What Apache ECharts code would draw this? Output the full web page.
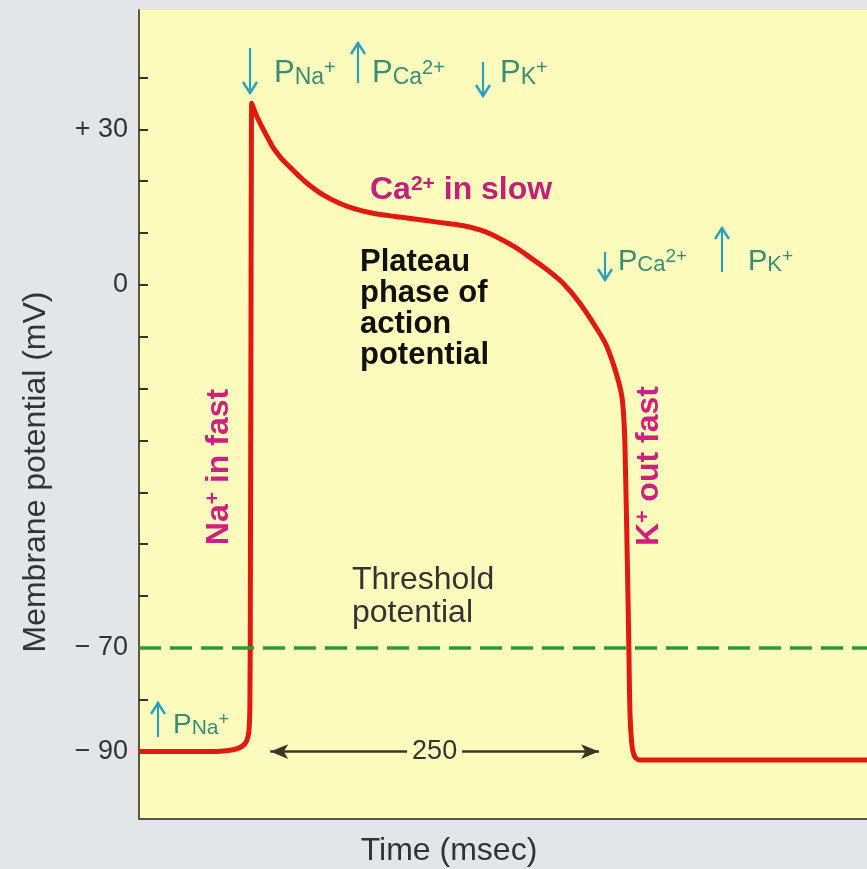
<!DOCTYPE html>
<html>
<head>
<meta charset="utf-8">
<script src="https://cdn.jsdelivr.net/npm/echarts@6/dist/echarts.min.js"></script>
<style>
  html, body { margin: 0; padding: 0; background: #e2e6e8; }
  #chart { width: 867px; height: 869px; }
</style>
</head>
<body>
<div id="chart"></div>
<script>
// ventricular action potential, time in ms (0 = upstroke), potential in mV
var timeMs = [-80, -28, -19, -11, -5.5, -2.2, -0.4, 0.3, 0.6, 1.0, 1.3,
  1.6, 4, 8, 12.5, 17, 23, 29.3, 35, 41.6, 53,
  65.5, 77, 89.4, 102, 114, 136, 155, 168, 180, 192,
  203, 215, 227, 239, 252, 258, 263, 267, 269.6, 271,
  271.8, 273.3, 274.6, 275.4, 276.4, 277.6, 279.5, 283, 447];
var potential = [-90, -90, -89.9, -89.6, -89, -88, -86, -80, -60, -15, 20,
  35, 33.3, 31, 28.7, 26.5, 24.4, 22.7, 21.2, 19.6, 17.4,
  15.7, 14.6, 13.8, 13.3, 12.9, 12.1, 11.4, 10.5, 9.1, 7.3,
  5.3, 3, 0.3, -3.5, -8.7, -11.5, -15, -18.5, -21.6, -26,
  -31.3, -50.5, -70, -82.5, -87.5, -90, -91.2, -91.6, -91.6];

var tickValues = [-90, -80, -70, -60, -50, -40, -30, -20, -10, 0, 10, 20, 30, 40];
var labelValues = [30, 0, -70, -90];
var labelText = ['+ 30', '0', '\u2212 70', '\u2212 90'];
var threshold = -70;
var plateauSpan = [15, 253];   // arrow ends of the "250" bracket
var plateauLabel = '250';

var FONT = 'Liberation Sans';
var cyan = '#2aa0c0';
var teal = '#3a8d74';
var magenta = '#cf2080';

var chart = echarts.init(document.getElementById('chart'));

function arrow(x, y1, y2, up) {
  var tip = up ? y1 : y2;
  var d = up ? 1 : -1;
  return {
    type: 'group', silent: true,
    children: [
      { type: 'line', shape: { x1: x, y1: y1, x2: x, y2: y2 }, style: { stroke: cyan, lineWidth: 2.2 } },
      { type: 'polyline', shape: { points: [[x - 7, tip + d * 11], [x, tip], [x + 7, tip + d * 11]] },
        style: { stroke: cyan, lineWidth: 2.4, fill: null } }
    ]
  };
}

function perm(x, bottom, sub, sup, size) {
  size = size || 31;
  return {
    type: 'text', x: x, y: bottom, silent: true,
    style: {
      text: '{p|P}{s|' + sub + '}' + (sup ? '{u|' + sup + '}' : ''),
      align: 'left', verticalAlign: 'bottom',
      rich: {
        p: { fontFamily: FONT, fontSize: size, fill: teal, verticalAlign: 'bottom' },
        s: { fontFamily: FONT, fontSize: Math.round(size * 0.75), fill: teal, verticalAlign: 'bottom' },
        u: { fontFamily: FONT, fontSize: Math.round(size * 0.65), fill: teal, verticalAlign: 'top' }
      }
    }
  };
}

function ionText(x, y, main, sup, rest, rot, color) {
  return {
    type: 'text', x: x, y: y, rotation: rot, silent: true,
    style: {
      text: '{m|' + main + '}{u|' + sup + '}{m|' + rest + '}',
      align: rot ? 'center' : 'left', verticalAlign: rot ? 'middle' : 'bottom',
      rich: {
        m: { fontFamily: FONT, fontWeight: 'bold', fontSize: 32, fill: color, verticalAlign: 'bottom' },
        u: { fontFamily: FONT, fontWeight: 'bold', fontSize: 21, fill: color, verticalAlign: 'top' }
      }
    }
  };
}

var graphics = [
  // top row of permeability changes
  arrow(250, 48, 93, false),
  perm(274, 89, 'Na', '+'),
  arrow(358, 43, 83, true),
  perm(372, 89, 'Ca', '2+'),
  arrow(483, 62, 96, false),
  perm(500, 89, 'K', '+'),
  // repolarisation permeabilities
  arrow(605, 252, 280, false),
  perm(618, 276, 'Ca', '2+', 29),
  arrow(722, 228, 272, true),
  perm(748, 276, 'K', '+', 29),
  // resting
  arrow(158, 703, 737, true),
  perm(173, 739, 'Na', '+', 28),
  // ion currents
  ionText(370, 206, 'Ca', '2+', ' in slow', 0, '#c2207a'),
  ionText(219, 467, 'Na', '+', ' in fast', Math.PI / 2, magenta),
  ionText(649, 466, 'K', '+', ' out fast', Math.PI / 2, magenta),
  {
    type: 'text', x: 360, y: 247, silent: true,
    style: { text: 'Plateau\nphase of\naction\npotential', fontFamily: FONT, fontWeight: 'bold',
      fontSize: 31, lineHeight: 31, fill: '#111', align: 'left', verticalAlign: 'top' }
  },
  {
    type: 'text', x: 352, y: 564, silent: true,
    style: { text: 'Threshold\npotential', fontFamily: FONT, fontSize: 32, lineHeight: 33,
      fill: '#333', align: 'left', verticalAlign: 'top' }
  },
  // axis names
  {
    type: 'text', x: 36, y: 472, rotation: Math.PI / 2, silent: true,
    style: { text: 'Membrane potential (mV)', fontFamily: FONT, fontSize: 32, fill: '#333',
      align: 'center', verticalAlign: 'middle' }
  },
  {
    type: 'text', x: 449, y: 851, silent: true,
    style: { text: 'Time (msec)', fontFamily: FONT, fontSize: 32, fill: '#333',
      align: 'center', verticalAlign: 'middle' }
  }
];

chart.setOption({
  animation: false,
  backgroundColor: '#e2e6e8',
  grid: { show: true, left: 139, right: 0, top: 10, bottom: 50, backgroundColor: '#fefcbd', borderWidth: 0 },
  xAxis: {
    type: 'value', min: -80, max: 447,
    axisLine: { show: true, onZero: false, lineStyle: { color: '#5b583a', width: 2 } },
    axisTick: { show: false }, axisLabel: { show: false }, splitLine: { show: false }
  },
  yAxis: {
    type: 'value', min: -103, max: 53,
    axisLine: { show: true, onZero: false, lineStyle: { color: '#5b583a', width: 2 } },
    axisTick: { show: true, inside: true, length: 9, customValues: tickValues,
      lineStyle: { color: '#333', width: 2 } },
    axisLabel: {
      customValues: labelValues, margin: 11, fontFamily: FONT, fontSize: 27, color: '#333',
      formatter: function (v) { return labelText[labelValues.indexOf(v)]; }
    },
    splitLine: { show: false }
  },
  series: [{
    type: 'line',
    data: timeMs.map(function (t, i) { return [t, potential[i]]; }),
    showSymbol: false, symbol: 'none',
    smooth: 0.35,
    lineStyle: { color: '#e2190f', width: 5 },
    emphasis: { disabled: true },
    z: 3,
    markLine: {
      silent: true, symbol: 'none', animation: false,
      data: [
        { yAxis: threshold, label: { show: false },
          lineStyle: { color: '#2e9a35', width: 3.5, type: [22, 9] } },
        [
          { coord: [plateauSpan[0], -90], symbol: 'arrow', symbolSize: [11, 18] },
          { coord: [plateauSpan[1], -90], symbol: 'arrow', symbolSize: [11, 18] }
        ]
      ],
      lineStyle: { color: '#3a3824', width: 2.5, type: 'solid' },
      label: {
        show: true, position: 'middle', distance: 0, verticalAlign: 'middle',
        formatter: plateauLabel,
        fontFamily: FONT, fontSize: 27, color: '#333',
        backgroundColor: '#fefcbd', padding: [2, 5]
      }
    }
  }],
  graphic: graphics
});
</script>
</body>
</html>
